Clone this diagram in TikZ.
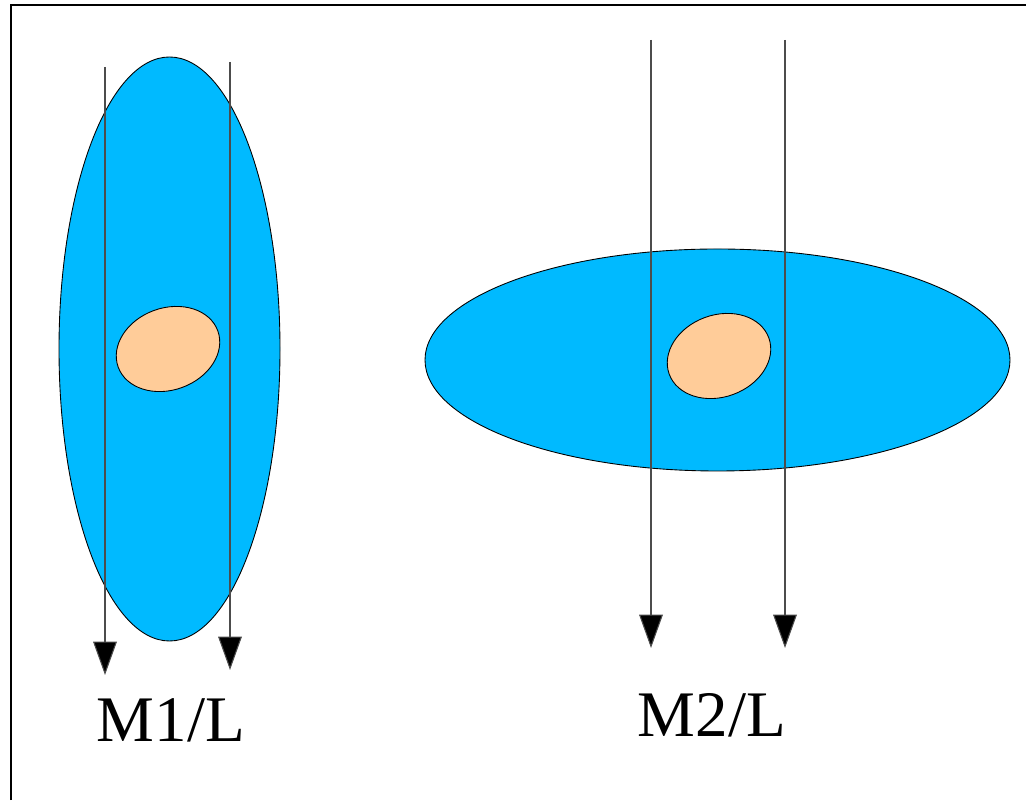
\documentclass[tikz,border=0pt]{standalone}
\usepackage{fontspec}
\setmainfont{Liberation Serif}
\usetikzlibrary{arrows.meta}

\definecolor{cellblue}{RGB}{0,186,255}
\definecolor{coreskin}{RGB}{255,204,153}

\begin{document}
\begin{tikzpicture}[x=0.02cm,y=0.02cm,
  ray/.style={draw=black!70, line width=0.6pt, -{Triangle[width=13.5pt,length=19pt,fill=black]}},
  body/.style={draw=black, line width=0.5pt, fill=cellblue},
  core/.style={draw=black, line width=0.5pt, fill=coreskin}]

% Page frame
\useasboundingbox (0,0) rectangle (1026,800);
\draw[line width=0.6pt] (11,0) -- (11,795) -- (1026,795);

% Upright body with its core
\draw[body] (169.5,451) ellipse [x radius=110.5, y radius=292];
\draw[core,rotate around={20:(168,451)}] (168,451) ellipse [x radius=53, y radius=41];

% Lying body with its core
\draw[body] (717.5,440) ellipse [x radius=292.5, y radius=111];
\draw[core,rotate around={20:(719,444)}] (719,444) ellipse [x radius=53, y radius=41];

% Ends of the rays
\coordinate (A1) at (105,733);
\coordinate (A2) at (105,125);
\coordinate (B1) at (230,738);
\coordinate (B2) at (230,130);
\coordinate (C1) at (651,760);
\coordinate (C2) at (651,152);
\coordinate (D1) at (785,760);
\coordinate (D2) at (785,152);

% Rays
\draw[ray] (A1) -- (A2);
\draw[ray] (B1) -- (B2);
\draw[ray] (C1) -- (C2);
\draw[ray] (D1) -- (D2);

% Labels
\node[font=\fontsize{37}{41}\selectfont, anchor=base] (m1) at (171,58) {M1/L};
\node[font=\fontsize{37}{41}\selectfont, anchor=base] (m2) at (712,63) {M2/L};

\end{tikzpicture}
\end{document}
